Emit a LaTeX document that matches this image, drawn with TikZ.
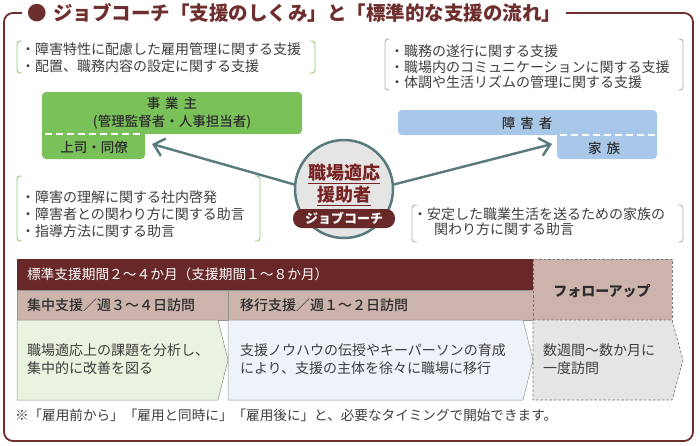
\documentclass[tikz,border=0pt]{standalone}
\usepackage{fontspec}
\setmainfont{Noto Sans CJK JP}
\newfontfamily\medfont{Noto Sans CJK JP Medium}
\usetikzlibrary{arrows.meta}
\definecolor{textgray}{RGB}{62,62,62}
\definecolor{textdark}{RGB}{45,45,45}
\definecolor{maroon}{RGB}{104,40,40}
\definecolor{framecol}{RGB}{110,46,46}
\definecolor{maroontext}{RGB}{120,36,36}
\definecolor{gbox}{RGB}{122,193,90}
\definecolor{bbox}{RGB}{168,199,233}
\definecolor{circfill}{RGB}{229,229,229}
\definecolor{tealcol}{RGB}{88,122,124}
\definecolor{pinkrow}{RGB}{204,180,172}
\definecolor{lgreen}{RGB}{234,243,224}
\definecolor{lblue}{RGB}{238,243,250}
\definecolor{lgray}{RGB}{229,229,229}
\definecolor{brkgreen}{RGB}{150,200,120}
\definecolor{brkgray}{RGB}{178,178,178}
\definecolor{cellline}{RGB}{150,145,145}
\definecolor{dashgray}{RGB}{120,115,115}
\newcommand\mybrk[5]{%
  \draw[#1,brkline] ({#2+5},#3) -- (#2,#3) -- (#2,#5) -- ({#2+5},#5);
  \draw[#1,brkline] ({#4-5},#3) -- (#4,#3) -- (#4,#5) -- ({#4-5},#5);}
\begin{document}
\begin{tikzpicture}[x=1pt,y=-1pt,
  every node/.style={inner sep=0pt,outer sep=0pt},
  body/.style={font=\fontsize{14}{16.5}\selectfont, text=textgray, align=left, anchor=west},
  lbl/.style={font=\medfont\fontsize{13.5}{18}\selectfont, text=textdark, align=center},
  brkline/.style={line width=0.9pt, rounded corners=3pt},
  cell/.style={draw=cellline, line width=0.5pt},
  dcell/.style={draw=dashgray, line width=0.7pt, dash pattern=on 2.5pt off 2pt},
  conn/.style={draw=tealcol, line width=2.4pt, -{Straight Barb[length=10pt,width=18pt]}},
  wdash/.style={white, line width=1.3pt, dash pattern=on 7pt off 4pt},
]
\useasboundingbox (0,0) rectangle (700,445);
% frame and title
\draw[framecol, line width=1.8pt, rounded corners=9pt] (4,13) rectangle (693,441);
\node[anchor=west, fill=white, inner xsep=5pt, inner ysep=3pt,
      font=\bfseries\fontsize{19.5}{22}\selectfont, text=framecol] (title) at (22,13)
      {●\hspace{7pt}ジョブコーチ「支援のしくみ」と「標準的な支援の流れ」};
% brackets and bullet texts
\mybrk{brkgreen}{17}{41}{315}{73}
\node[body] (tl) at (21,57.5) {・障害特性に配慮した雇用管理に関する支援\\・配置、職務内容の設定に関する支援};
\mybrk{brkgray}{385}{39}{683}{90}
\node[body, font=\fontsize{14}{15.7}\selectfont] (tr) at (390,67) {・職務の遂行に関する支援\\・職場内のコミュニケーションに関する支援\\・体調や生活リズムの管理に関する支援};
\mybrk{brkgreen}{17}{176}{260}{241}
\node[body, font=\fontsize{14}{17}\selectfont] (bl) at (21,214.5) {・障害の理解に関する社内啓発\\・障害者との関わり方に関する助言\\・指導方法に関する助言};
\mybrk{brkgray}{412}{205}{683}{242}
\node[body, font=\fontsize{14}{15.5}\selectfont] (br) at (413,221.5) {・安定した職業生活を送るための家族の\\\hspace*{1.5em}関わり方に関する助言};
% employer box
\fill[gbox, rounded corners=4pt] (42,92) rectangle (302,134);
\fill[gbox, rounded corners=4pt] (42,126) rectangle (145,159);
\draw[wdash] (45,134) -- (142,134);
\node[lbl] (emp) at (172,113) {事\hspace{5pt}業\hspace{5pt}主\\(管理監督者・人事担当者)};
\node[lbl] (boss) at (94,147) {上司・同僚};
% person box
\fill[bbox, rounded corners=4pt] (398,110) rectangle (657,135);
\fill[bbox, rounded corners=4pt] (557,127) rectangle (657,159);
\draw[wdash] (560,135) -- (655,135);
\node[lbl] (pwd) at (527,123) {障\hspace{5pt}害\hspace{5pt}者};
\node[lbl] (fam) at (604,148.5) {家\hspace{5pt}族};
% job coach circle
\node[circle, minimum size=98pt, fill=circfill, draw=tealcol, line width=2.5pt] (jc) at (344,189) {};
\node[font=\bfseries\fontsize{18}{22}\selectfont, text=maroontext, align=center] (jct) at (344,185)
      {\underline{職場適応}\\\underline{援助者}};
\node[fill=maroon, rounded corners=9pt, minimum width=102pt, minimum height=19pt, text=white,
      font=\bfseries\fontsize{13}{15}\selectfont] (pill) at (344,218.5) {ジョブコーチ};
\coordinate (tipL) at (152,144);
\coordinate (tipR) at (552,144);
\draw[conn] (jc.175) -- (tipL);
\draw[conn] (jc.5) -- (tipR);
% table
\fill[maroon] (17,259) rectangle (533,290);
\node[anchor=west, text=white, font=\fontsize{13.7}{16}\selectfont] (hdr) at (27,274.5)
      {標準支援期間２～４か月（支援期間１～８か月）};
\filldraw[fill=pinkrow, cell] (17,290) rectangle (228,320);
\filldraw[fill=pinkrow, cell] (228,290) rectangle (533,320);
\node[lbl, anchor=west, font=\medfont\fontsize{14}{16}\selectfont] (c1) at (27,305) {集中支援／週３～４日訪問};
\node[lbl, anchor=west, font=\medfont\fontsize{14}{16}\selectfont] (c2) at (240,305) {移行支援／週１～２日訪問};
\filldraw[fill=pinkrow, dcell] (533,259) rectangle (672,320);
\node[lbl, font=\bfseries\fontsize{14}{16}\selectfont] (fu) at (602,291) {フォローアップ};
\filldraw[fill=lgreen, cell] (17,320) -- (218,320) -- (228,360) -- (218,400) -- (17,400) -- cycle;
\filldraw[fill=lblue, cell] (228,320) -- (523,320) -- (533,360) -- (523,400) -- (228,400) -- cycle;
\filldraw[fill=lgray, dcell] (533,320) -- (672,320) -- (683,360) -- (672,400) -- (533,400) -- cycle;
\node[body, font=\fontsize{14}{18}\selectfont] (p1) at (27,359) {職場適応上の課題を分析し、\\集中的に改善を図る};
\node[body, font=\fontsize{14}{18}\selectfont] (p2) at (240,359) {支援ノウハウの伝授やキーパーソンの育成\\により、支援の主体を徐々に職場に移行};
\node[body, font=\fontsize{14}{18}\selectfont] (p3) at (543,359) {数週間～数か月に\\一度訪問};
\node[body, font=\fontsize{13.6}{16}\selectfont] (note) at (15,415)
      {※「雇用前から」「雇用と同時に」「雇用後に」と、必要なタイミングで開始できます。};
\end{tikzpicture}
\end{document}
